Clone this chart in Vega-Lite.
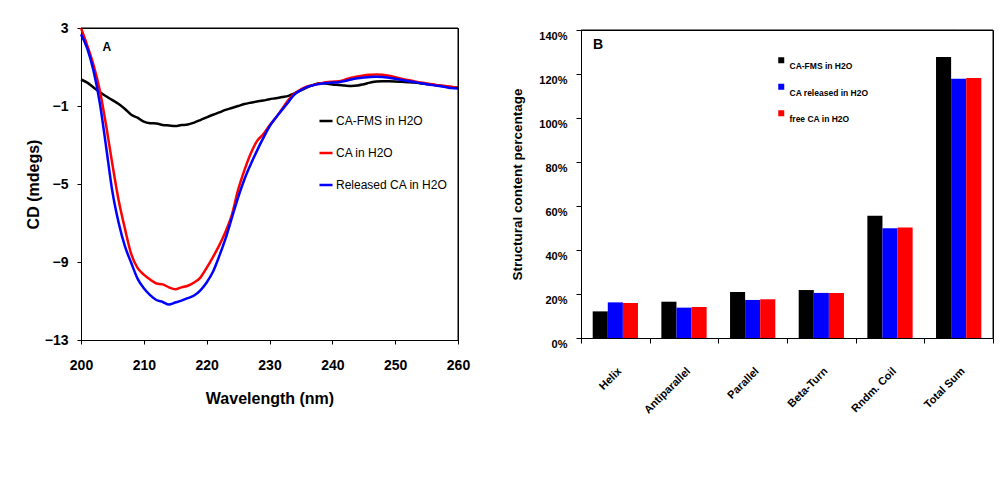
{
  "$schema": "https://vega.github.io/schema/vega-lite/v6.json",
  "background": "white",
  "padding": {"left": 24, "top": 20, "right": 5, "bottom": 5},
  "bounds": "flush",
  "center": true,
  "spacing": 123,
  "config": {
    "font": "Liberation Sans",
    "view": {"stroke": "#000", "strokeWidth": 1},
    "axis": {"grid": false, "domainColor": "#000", "tickColor": "#000", "labelColor": "#000", "titleColor": "#000", "labelFontWeight": "bold", "titleFontWeight": "bold", "labelFont": "Liberation Sans", "titleFont": "Liberation Sans", "labelFlush": false},
    "legend": {"labelFont": "Liberation Sans", "labelColor": "#000"}
  },
  "resolve": {"scale": {"color": "independent"}, "legend": {"color": "independent"}},
  "datasets": {
    "cd": [
      {"w":200,"s":"CA-FMS in H2O","cd":0.36},{"w":201,"s":"CA-FMS in H2O","cd":0.2},{"w":202,"s":"CA-FMS in H2O","cd":-0.05},{"w":203,"s":"CA-FMS in H2O","cd":-0.3},{"w":204,"s":"CA-FMS in H2O","cd":-0.5},{"w":205,"s":"CA-FMS in H2O","cd":-0.7},{"w":206,"s":"CA-FMS in H2O","cd":-0.9},{"w":207,"s":"CA-FMS in H2O","cd":-1.15},{"w":208,"s":"CA-FMS in H2O","cd":-1.45},{"w":209,"s":"CA-FMS in H2O","cd":-1.6},{"w":210,"s":"CA-FMS in H2O","cd":-1.8},{"w":211,"s":"CA-FMS in H2O","cd":-1.88},{"w":212,"s":"CA-FMS in H2O","cd":-1.9},{"w":213,"s":"CA-FMS in H2O","cd":-1.97},{"w":214,"s":"CA-FMS in H2O","cd":-2.0},{"w":215,"s":"CA-FMS in H2O","cd":-2.03},{"w":216,"s":"CA-FMS in H2O","cd":-1.98},{"w":217,"s":"CA-FMS in H2O","cd":-1.95},{"w":218,"s":"CA-FMS in H2O","cd":-1.85},{"w":219,"s":"CA-FMS in H2O","cd":-1.72},{"w":220,"s":"CA-FMS in H2O","cd":-1.58},{"w":221,"s":"CA-FMS in H2O","cd":-1.45},{"w":222,"s":"CA-FMS in H2O","cd":-1.33},{"w":223,"s":"CA-FMS in H2O","cd":-1.2},{"w":224,"s":"CA-FMS in H2O","cd":-1.1},{"w":225,"s":"CA-FMS in H2O","cd":-1.0},{"w":226,"s":"CA-FMS in H2O","cd":-0.9},{"w":227,"s":"CA-FMS in H2O","cd":-0.83},{"w":228,"s":"CA-FMS in H2O","cd":-0.77},{"w":229,"s":"CA-FMS in H2O","cd":-0.72},{"w":230,"s":"CA-FMS in H2O","cd":-0.65},{"w":231,"s":"CA-FMS in H2O","cd":-0.6},{"w":232,"s":"CA-FMS in H2O","cd":-0.54},{"w":233,"s":"CA-FMS in H2O","cd":-0.48},{"w":234,"s":"CA-FMS in H2O","cd":-0.36},{"w":235,"s":"CA-FMS in H2O","cd":-0.2},{"w":236,"s":"CA-FMS in H2O","cd":-0.05},{"w":237,"s":"CA-FMS in H2O","cd":0.08},{"w":238,"s":"CA-FMS in H2O","cd":0.17},{"w":239,"s":"CA-FMS in H2O","cd":0.15},{"w":240,"s":"CA-FMS in H2O","cd":0.1},{"w":241,"s":"CA-FMS in H2O","cd":0.08},{"w":242,"s":"CA-FMS in H2O","cd":0.05},{"w":243,"s":"CA-FMS in H2O","cd":0.03},{"w":244,"s":"CA-FMS in H2O","cd":0.05},{"w":245,"s":"CA-FMS in H2O","cd":0.12},{"w":246,"s":"CA-FMS in H2O","cd":0.2},{"w":247,"s":"CA-FMS in H2O","cd":0.26},{"w":248,"s":"CA-FMS in H2O","cd":0.27},{"w":249,"s":"CA-FMS in H2O","cd":0.27},{"w":250,"s":"CA-FMS in H2O","cd":0.26},{"w":251,"s":"CA-FMS in H2O","cd":0.24},{"w":252,"s":"CA-FMS in H2O","cd":0.22},{"w":253,"s":"CA-FMS in H2O","cd":0.2},{"w":254,"s":"CA-FMS in H2O","cd":0.17},{"w":255,"s":"CA-FMS in H2O","cd":0.13},{"w":256,"s":"CA-FMS in H2O","cd":0.09},{"w":257,"s":"CA-FMS in H2O","cd":0.05},{"w":258,"s":"CA-FMS in H2O","cd":0.01},{"w":259,"s":"CA-FMS in H2O","cd":-0.03},{"w":260,"s":"CA-FMS in H2O","cd":-0.07},
      {"w":200,"s":"CA in H2O","cd":3.0},{"w":201,"s":"CA in H2O","cd":2.1},{"w":202,"s":"CA in H2O","cd":1.1},{"w":203,"s":"CA in H2O","cd":-0.2},{"w":204,"s":"CA in H2O","cd":-2.0},{"w":205,"s":"CA in H2O","cd":-4.0},{"w":206,"s":"CA in H2O","cd":-5.85},{"w":207,"s":"CA in H2O","cd":-7.3},{"w":208,"s":"CA in H2O","cd":-8.6},{"w":209,"s":"CA in H2O","cd":-9.3},{"w":210,"s":"CA in H2O","cd":-9.65},{"w":211,"s":"CA in H2O","cd":-9.9},{"w":212,"s":"CA in H2O","cd":-10.1},{"w":213,"s":"CA in H2O","cd":-10.15},{"w":214,"s":"CA in H2O","cd":-10.3},{"w":215,"s":"CA in H2O","cd":-10.4},{"w":216,"s":"CA in H2O","cd":-10.3},{"w":217,"s":"CA in H2O","cd":-10.22},{"w":218,"s":"CA in H2O","cd":-10.05},{"w":219,"s":"CA in H2O","cd":-9.8},{"w":220,"s":"CA in H2O","cd":-9.3},{"w":221,"s":"CA in H2O","cd":-8.75},{"w":222,"s":"CA in H2O","cd":-8.15},{"w":223,"s":"CA in H2O","cd":-7.45},{"w":224,"s":"CA in H2O","cd":-6.6},{"w":225,"s":"CA in H2O","cd":-5.3},{"w":226,"s":"CA in H2O","cd":-4.3},{"w":227,"s":"CA in H2O","cd":-3.45},{"w":228,"s":"CA in H2O","cd":-2.8},{"w":229,"s":"CA in H2O","cd":-2.45},{"w":230,"s":"CA in H2O","cd":-2.0},{"w":231,"s":"CA in H2O","cd":-1.6},{"w":232,"s":"CA in H2O","cd":-1.15},{"w":233,"s":"CA in H2O","cd":-0.7},{"w":234,"s":"CA in H2O","cd":-0.35},{"w":235,"s":"CA in H2O","cd":-0.15},{"w":236,"s":"CA in H2O","cd":0.0},{"w":237,"s":"CA in H2O","cd":0.08},{"w":238,"s":"CA in H2O","cd":0.15},{"w":239,"s":"CA in H2O","cd":0.22},{"w":240,"s":"CA in H2O","cd":0.25},{"w":241,"s":"CA in H2O","cd":0.27},{"w":242,"s":"CA in H2O","cd":0.35},{"w":243,"s":"CA in H2O","cd":0.45},{"w":244,"s":"CA in H2O","cd":0.52},{"w":245,"s":"CA in H2O","cd":0.57},{"w":246,"s":"CA in H2O","cd":0.6},{"w":247,"s":"CA in H2O","cd":0.62},{"w":248,"s":"CA in H2O","cd":0.6},{"w":249,"s":"CA in H2O","cd":0.55},{"w":250,"s":"CA in H2O","cd":0.48},{"w":251,"s":"CA in H2O","cd":0.4},{"w":252,"s":"CA in H2O","cd":0.33},{"w":253,"s":"CA in H2O","cd":0.27},{"w":254,"s":"CA in H2O","cd":0.21},{"w":255,"s":"CA in H2O","cd":0.16},{"w":256,"s":"CA in H2O","cd":0.11},{"w":257,"s":"CA in H2O","cd":0.06},{"w":258,"s":"CA in H2O","cd":0.02},{"w":259,"s":"CA in H2O","cd":-0.03},{"w":260,"s":"CA in H2O","cd":-0.07},
      {"w":200,"s":"Released CA in H2O","cd":2.67},{"w":201,"s":"Released CA in H2O","cd":1.95},{"w":202,"s":"Released CA in H2O","cd":0.8},{"w":203,"s":"Released CA in H2O","cd":-0.86},{"w":204,"s":"Released CA in H2O","cd":-3.1},{"w":205,"s":"Released CA in H2O","cd":-5.4},{"w":206,"s":"Released CA in H2O","cd":-7.0},{"w":207,"s":"Released CA in H2O","cd":-8.2},{"w":208,"s":"Released CA in H2O","cd":-9.05},{"w":209,"s":"Released CA in H2O","cd":-9.85},{"w":210,"s":"Released CA in H2O","cd":-10.35},{"w":211,"s":"Released CA in H2O","cd":-10.7},{"w":212,"s":"Released CA in H2O","cd":-10.95},{"w":213,"s":"Released CA in H2O","cd":-11.05},{"w":214,"s":"Released CA in H2O","cd":-11.18},{"w":215,"s":"Released CA in H2O","cd":-11.08},{"w":216,"s":"Released CA in H2O","cd":-10.98},{"w":217,"s":"Released CA in H2O","cd":-10.85},{"w":218,"s":"Released CA in H2O","cd":-10.72},{"w":219,"s":"Released CA in H2O","cd":-10.45},{"w":220,"s":"Released CA in H2O","cd":-10.05},{"w":221,"s":"Released CA in H2O","cd":-9.5},{"w":222,"s":"Released CA in H2O","cd":-8.7},{"w":223,"s":"Released CA in H2O","cd":-7.8},{"w":224,"s":"Released CA in H2O","cd":-6.75},{"w":225,"s":"Released CA in H2O","cd":-5.7},{"w":226,"s":"Released CA in H2O","cd":-4.77},{"w":227,"s":"Released CA in H2O","cd":-4.0},{"w":228,"s":"Released CA in H2O","cd":-3.3},{"w":229,"s":"Released CA in H2O","cd":-2.65},{"w":230,"s":"Released CA in H2O","cd":-2.05},{"w":231,"s":"Released CA in H2O","cd":-1.6},{"w":232,"s":"Released CA in H2O","cd":-1.2},{"w":233,"s":"Released CA in H2O","cd":-0.8},{"w":234,"s":"Released CA in H2O","cd":-0.4},{"w":235,"s":"Released CA in H2O","cd":-0.18},{"w":236,"s":"Released CA in H2O","cd":-0.02},{"w":237,"s":"Released CA in H2O","cd":0.07},{"w":238,"s":"Released CA in H2O","cd":0.13},{"w":239,"s":"Released CA in H2O","cd":0.18},{"w":240,"s":"Released CA in H2O","cd":0.2},{"w":241,"s":"Released CA in H2O","cd":0.22},{"w":242,"s":"Released CA in H2O","cd":0.28},{"w":243,"s":"Released CA in H2O","cd":0.36},{"w":244,"s":"Released CA in H2O","cd":0.42},{"w":245,"s":"Released CA in H2O","cd":0.46},{"w":246,"s":"Released CA in H2O","cd":0.49},{"w":247,"s":"Released CA in H2O","cd":0.5},{"w":248,"s":"Released CA in H2O","cd":0.49},{"w":249,"s":"Released CA in H2O","cd":0.45},{"w":250,"s":"Released CA in H2O","cd":0.4},{"w":251,"s":"Released CA in H2O","cd":0.34},{"w":252,"s":"Released CA in H2O","cd":0.28},{"w":253,"s":"Released CA in H2O","cd":0.23},{"w":254,"s":"Released CA in H2O","cd":0.17},{"w":255,"s":"Released CA in H2O","cd":0.12},{"w":256,"s":"Released CA in H2O","cd":0.07},{"w":257,"s":"Released CA in H2O","cd":0.02},{"w":258,"s":"Released CA in H2O","cd":-0.03},{"w":259,"s":"Released CA in H2O","cd":-0.08},{"w":260,"s":"Released CA in H2O","cd":-0.1}
    ],
    "ss": [
      {"cat":"Helix","grp":"CA-FMS in H2O","pct":0.121},{"cat":"Helix","grp":"CA released  in H2O","pct":0.162},{"cat":"Helix","grp":"free CA in H2O","pct":0.159},
      {"cat":"Antiparallel","grp":"CA-FMS in H2O","pct":0.165},{"cat":"Antiparallel","grp":"CA released  in H2O","pct":0.138},{"cat":"Antiparallel","grp":"free CA in H2O","pct":0.141},
      {"cat":"Parallel","grp":"CA-FMS in H2O","pct":0.209},{"cat":"Parallel","grp":"CA released  in H2O","pct":0.173},{"cat":"Parallel","grp":"free CA in H2O","pct":0.176},
      {"cat":"Beta-Turn","grp":"CA-FMS in H2O","pct":0.218},{"cat":"Beta-Turn","grp":"CA released  in H2O","pct":0.205},{"cat":"Beta-Turn","grp":"free CA in H2O","pct":0.205},
      {"cat":"Rndm. Coil","grp":"CA-FMS in H2O","pct":0.556},{"cat":"Rndm. Coil","grp":"CA released  in H2O","pct":0.499},{"cat":"Rndm. Coil","grp":"free CA in H2O","pct":0.502},
      {"cat":"Total Sum","grp":"CA-FMS in H2O","pct":1.277},{"cat":"Total Sum","grp":"CA released  in H2O","pct":1.178},{"cat":"Total Sum","grp":"free CA in H2O","pct":1.182}
    ]
  },
  "hconcat": [
    {
      "width": 377,
      "height": 312,
      "layer": [
        {
          "data": {"name": "cd"},
          "mark": {"type": "line", "strokeWidth": 2.5, "interpolate": "monotone"},
          "encoding": {
            "x": {"field": "w", "type": "quantitative", "scale": {"domain": [200, 260], "nice": false, "zero": false},
                  "axis": {"values": [200, 210, 220, 230, 240, 250, 260], "title": "Wavelength (nm)", "labelFontSize": 14, "titleFontSize": 16, "tickSize": 4, "labelPadding": 14, "titlePadding": 18}},
            "y": {"field": "cd", "type": "quantitative", "scale": {"domain": [-13, 3], "nice": false, "zero": false},
                  "axis": {"values": [3, -1, -5, -9, -13], "title": "CD (mdegs)", "labelFontSize": 14, "titleFontSize": 16, "tickSize": 4, "labelPadding": 9, "titlePadding": 3}},
            "color": {"field": "s", "type": "nominal",
                      "scale": {"domain": ["CA-FMS in H2O", "CA in H2O", "Released CA in H2O"], "range": ["#000000", "#ff0000", "#0000ff"]},
                      "legend": {"orient": "none", "legendX": 237, "legendY": 85, "title": null, "symbolType": "stroke", "symbolSize": 170, "symbolStrokeWidth": 2.5, "labelFontSize": 12, "rowPadding": 18, "labelOffset": 2}}
          }
        },
        {
          "data": {"values": [{}]},
          "mark": {"type": "rule", "stroke": "#000000", "strokeWidth": 1},
          "encoding": {"x": {"datum": 200, "type": "quantitative"}, "x2": {"datum": 260}, "y": {"datum": 3, "type": "quantitative"}}
        },
        {
          "data": {"values": [{}]},
          "mark": {"type": "rule", "stroke": "#000000", "strokeWidth": 1},
          "encoding": {"x": {"datum": 260, "type": "quantitative"}, "y": {"datum": -13, "type": "quantitative"}, "y2": {"datum": 3}}
        },
        {
          "data": {"values": [{}]},
          "mark": {"type": "text", "text": "A", "fontSize": 12, "fontWeight": "bold", "font": "Liberation Sans", "color": "#000"},
          "encoding": {"x": {"datum": 204.1, "type": "quantitative"}, "y": {"datum": 2.05, "type": "quantitative"}}
        }
      ]
    },
    {
      "width": 412,
      "height": 308,
      "layer": [
        {
          "data": {"name": "ss"},
          "mark": {"type": "bar"},
          "encoding": {
            "x": {"field": "cat", "type": "nominal", "sort": ["Helix", "Antiparallel", "Parallel", "Beta-Turn", "Rndm. Coil", "Total Sum"],
                  "scale": {"paddingInner": 0, "paddingOuter": 0},
                  "axis": {"title": null, "labelAngle": -45, "labelFontSize": 11, "tickBand": "extent", "tickSize": 5, "labelPadding": 22, "labelOffset": 0}},
            "xOffset": {"field": "grp", "type": "nominal", "sort": ["CA-FMS in H2O", "CA released  in H2O", "free CA in H2O"],
                        "scale": {"paddingOuter": 0.775, "paddingInner": 0}},
            "y": {"field": "pct", "type": "quantitative", "scale": {"domain": [0, 1.4], "nice": false},
                  "axis": {"values": [0, 0.2, 0.4, 0.6, 0.8, 1.0, 1.2, 1.4], "format": ".0%", "title": "Structural content percentage", "labelFontSize": 11, "titleFontSize": 13.5, "tickSize": 5, "labelPadding": 9, "labelOffset": 6, "titlePadding": 14}},
            "color": {"field": "grp", "type": "nominal",
                      "scale": {"domain": ["CA-FMS in H2O", "CA released  in H2O", "free CA in H2O"], "range": ["#000000", "#0000ff", "#ff0000"]},
                      "legend": {"orient": "none", "legendX": 196, "legendY": 32, "title": null, "symbolType": "M-1,-3H1V-1H-1Z", "symbolSize": 36, "symbolStrokeWidth": 0, "labelFontSize": 8.5, "labelFontWeight": "bold", "rowPadding": 12.5, "labelOffset": 4}}
          }
        },
        {
          "data": {"values": [{}]},
          "mark": {"type": "rule", "stroke": "#000000", "strokeWidth": 1},
          "encoding": {"x": {"datum": "Helix", "type": "nominal", "bandPosition": 0}, "x2": {"datum": "Total Sum"}, "y": {"datum": 1.4, "type": "quantitative"}}
        },
        {
          "data": {"values": [{}]},
          "mark": {"type": "rule", "stroke": "#000000", "strokeWidth": 1},
          "encoding": {"x": {"datum": "Total Sum", "type": "nominal", "bandPosition": 1}, "x2": {"datum": "Total Sum"}, "y": {"datum": 1.4, "type": "quantitative"}}
        },
        {
          "data": {"values": [{}]},
          "mark": {"type": "rule", "stroke": "#000000", "strokeWidth": 1},
          "encoding": {"x": {"datum": "Total Sum", "type": "nominal", "bandPosition": 1}, "y": {"datum": 0, "type": "quantitative"}, "y2": {"datum": 1.4}}
        },
        {
          "data": {"values": [{}]},
          "mark": {"type": "text", "text": "B", "fontSize": 14, "fontWeight": "bold", "font": "Liberation Sans", "color": "#000", "dx": 17},
          "encoding": {"x": {"datum": "Helix", "type": "nominal", "bandPosition": 0}, "y": {"datum": 1.33, "type": "quantitative"}}
        }
      ]
    }
  ]
}
